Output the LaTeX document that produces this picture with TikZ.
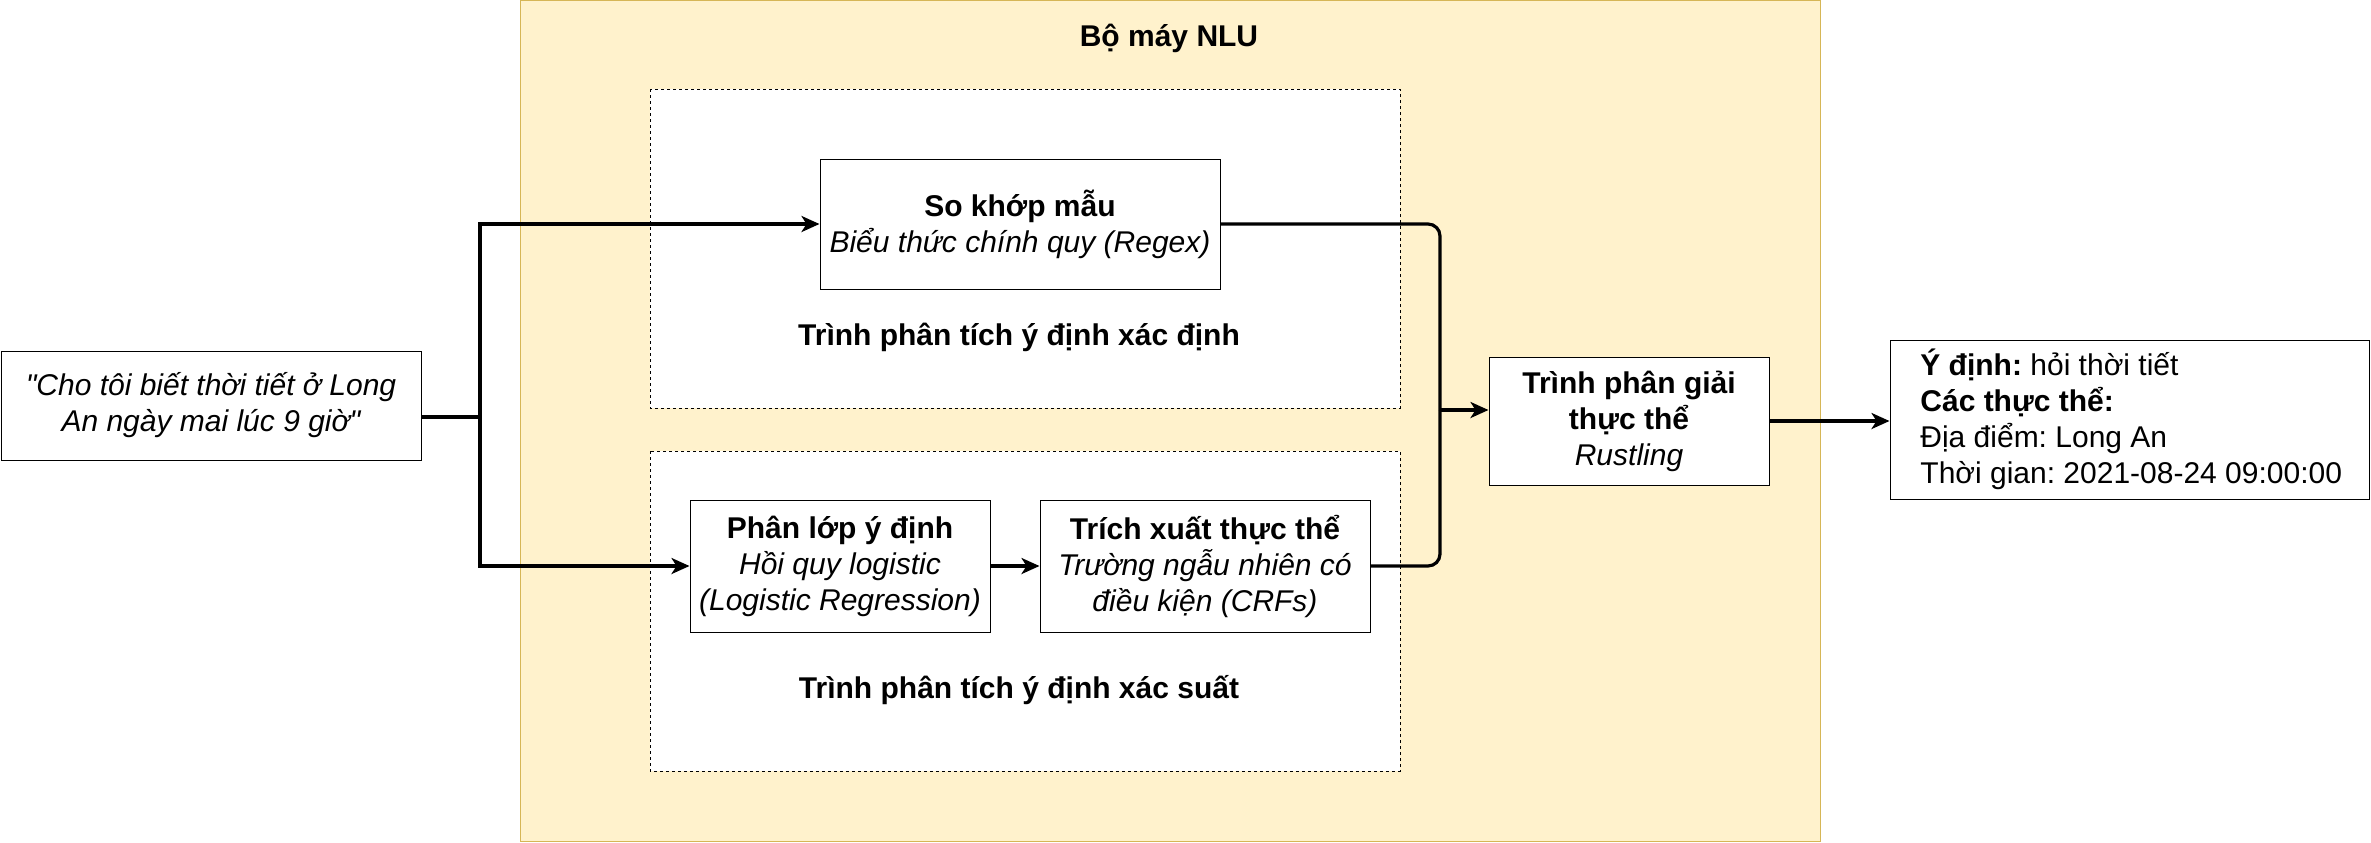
\documentclass[tikz,border=0pt]{standalone}
\usepackage{fontspec}
\setmainfont{Liberation Sans}[Ligatures=TeXOff]
\usetikzlibrary{arrows.meta}
\definecolor{ylfill}{HTML}{FFF2CC}
\definecolor{yldraw}{HTML}{D6B656}
\frenchspacing
\tikzset{
  px/.style={x=0.5pt,y=-0.5pt},
  txt/.style={font=\fontsize{15}{18}\selectfont},
  box/.style={draw=black,line width=0.5pt,fill=white,align=center,inner sep=0pt,txt},
  dbox/.style={draw=black,line width=0.5pt,fill=white,dash pattern=on 1.5pt off 1.5pt},
  conn/.style={draw=black,line width=1.6pt},
  arr/.style={conn,-{Stealth[length=9pt,width=8pt,inset=2.5pt]}},
}
\begin{document}
\begin{tikzpicture}[px]
\useasboundingbox (0,0) rectangle (2371,842);
% container
\draw[fill=ylfill,draw=yldraw,line width=0.5pt] (520.5,0.5) rectangle (1820.5,841.5);
\node[txt,font=\fontsize{15}{18}\selectfont\bfseries] (title) at (1169,38) {Bộ máy NLU};
% dashed groups
\draw[dbox] (650,89) rectangle (1400,408);
\draw[dbox] (650,451) rectangle (1400,771);
\node[txt,font=\fontsize{15}{18}\selectfont\bfseries] (lab1) at (1019,337) {Trình phân tích ý định xác định};
\node[txt,font=\fontsize{15}{18}\selectfont\bfseries] (lab2) at (1019,690) {Trình phân tích ý định xác suất};
% nodes
\node[box,minimum width=210pt,minimum height=54.5pt] (in) at (211,405.5)
  {\itshape "Cho tôi biết thời tiết ở Long\\ \itshape An ngày mai lúc 9 giờ"};
\node[box,minimum width=200pt,minimum height=65pt] (regex) at (1020,224)
  {\textbf{So khớp mẫu}\\ \itshape Biểu thức chính quy (Regex)};
\node[box,minimum width=150pt,minimum height=66pt] (cls) at (840,566)
  {\textbf{Phân lớp ý định}\\ \itshape Hồi quy logistic\\ \itshape (Logistic Regression)};
\node[box,minimum width=165pt,minimum height=66pt] (ext) at (1205,566)
  {\textbf{Trích xuất thực thể}\\ \itshape Trường ngẫu nhiên có\\ \itshape điều kiện (CRFs)};
\node[box,minimum width=140pt,minimum height=64pt] (rust) at (1629,421)
  {\textbf{Trình phân giải}\\ \textbf{thực thể}\\ \itshape Rustling};
\node[box,minimum width=239.5pt,minimum height=79.5pt] (out) at (2129.5,419.5) {};
\node[txt,align=left,inner sep=0pt,anchor=west] (outtxt) at (1920,419.5)
  {\textbf{Ý định:} hỏi thời tiết\\ \textbf{Các thực thể:}\\ Địa điểm: Long An\\ Thời gian: 2021-08-24 09:00:00};
% connectors
\coordinate (j) at (480,417);
\coordinate (m) at (1440,410);
\draw[conn] (in.east |- j) -- (j);
\draw[arr] (j) |- (regex.west);
\draw[arr] (j) |- (cls.west);
\draw[arr] (cls.east) -- (ext.west);
\draw[conn,rounded corners=6pt] (regex.east) -| (m);
\draw[conn,rounded corners=6pt] (ext.east) -| (m);
\draw[arr] (m) -- (rust.west |- m);
\draw[arr] (rust.east) -- (out.west |- rust.east);
\end{tikzpicture}
\end{document}
